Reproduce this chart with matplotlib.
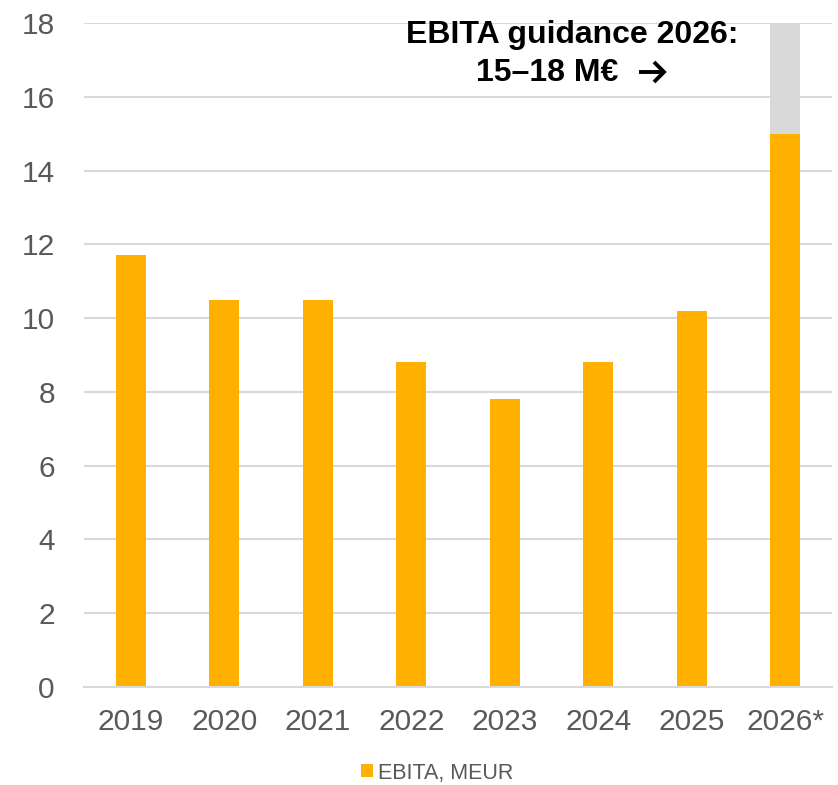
import matplotlib
matplotlib.use("Agg")
import matplotlib.pyplot as plt
from matplotlib.patches import Patch

years = ["2019", "2020", "2021", "2022", "2023", "2024", "2025", "2026*"]
ebita = [11.7, 10.5, 10.5, 8.8, 7.8, 8.8, 10.2, 15.0]
guidance_low = 15.0
guidance_high = 18.0
y_ticks = [0, 2, 4, 6, 8, 10, 12, 14, 16, 18]

ORANGE = "#FFB000"
GREY_BAR = "#D9D9D9"
TEXT = "#595959"

plt.rcParams["font.family"] = ["Liberation Sans", "DejaVu Sans"]

W, H = 838, 785
fig = plt.figure(figsize=(W / 100, H / 100), dpi=100)
ax = fig.add_axes([84 / W, 1 - 687 / H, (832 - 84) / W, (687 - 23) / H])

x = list(range(len(years)))
width = 0.32
ax.bar(x, ebita, width=width, color=ORANGE, zorder=3)
ax.bar([x[-1]], [guidance_high - guidance_low], bottom=[guidance_low],
       width=width, color=GREY_BAR, zorder=3)

ax.set_xlim(-0.5, len(years) - 0.5)
ax.set_ylim(0, 18)
ax.set_yticks(y_ticks)
ax.set_xticks(x)
ax.set_xticklabels(years)
ax.tick_params(axis="both", length=0, labelsize=21.5, colors=TEXT)
ax.tick_params(axis="y", pad=21)
ax.tick_params(axis="x", pad=15)
ax.yaxis.grid(True, color="#D9D9D9", linewidth=1.5, zorder=0)
ax.set_axisbelow(True)
for side in ["top", "right", "left"]:
    ax.spines[side].set_visible(False)
ax.spines["bottom"].set_color("#D9D9D9")
ax.spines["bottom"].set_linewidth(1.5)
ax.spines["bottom"].set_zorder(4)

# Guidance callout
fig.text(572 / W, 1 - 35 / H, "EBITA guidance 2026:", ha="center", va="center",
         fontsize=23, fontweight="bold", color="black")
fig.text(547 / W, 1 - 73 / H, "15\u201318 M\u20ac", ha="center", va="center",
         fontsize=23, fontweight="bold", color="black")
fig.add_artist(plt.Line2D([639 / W, 662 / W], [1 - 72 / H, 1 - 72 / H],
                          color="black", linewidth=2.8, solid_capstyle="butt"))
fig.add_artist(plt.Line2D([654 / W, 664 / W, 654 / W],
                          [1 - 62 / H, 1 - 72 / H, 1 - 82 / H],
                          color="black", linewidth=2.8, solid_joinstyle="miter",
                          solid_capstyle="butt"))

handles = [Patch(facecolor=ORANGE, edgecolor="none", label="EBITA, MEUR")]
fig.legend(handles=handles, loc="center", bbox_to_anchor=(437 / W, 1 - 773 / H),
           frameon=False, fontsize=15.5, handlelength=0.55, handleheight=0.55,
           handletextpad=0.25, labelcolor=TEXT)

fig.savefig("out.png", dpi=100)
